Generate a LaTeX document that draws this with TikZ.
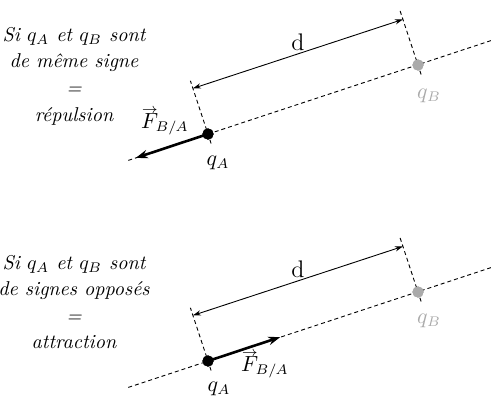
\documentclass[tikz,border=0pt]{standalone}
\usepackage{amsmath}
\usepackage{tikz}
\usetikzlibrary{arrows.meta, calc}
\definecolor{charge-gray}{HTML}{AAAAAA}
\newcommand{\forcevec}{\overset{\smash{\lower2.2pt\hbox{$\scriptstyle\rightarrow$}}}{F}_{\!B/A}}

\begin{document}
\begin{tikzpicture}[x=0.5pt, y=-0.5pt,
    charge/.style={circle, fill=black, inner sep=0pt, minimum size=5.6pt},
    ghost/.style={charge, fill=charge-gray},
    guide/.style={line width=0.45pt, dash pattern=on 2pt off 1.5pt},
    dimarr/.style={{Stealth[length=4pt, width=2.6pt]}-{Stealth[length=4pt, width=2.6pt]}, line width=0.45pt},
    force/.style={-{Stealth[length=6pt, width=4.2pt]}, line width=1.3pt},
    lbl/.style={font=\fontsize{10.5}{12}\selectfont, inner sep=0.5pt},
    rule/.style={font=\fontsize{10}{13.3}\selectfont\itshape, align=center, inner sep=0.5pt},
]
    \useasboundingbox (0,0) rectangle (491,397);

    % Same sign: repulsion
    \node[rule] (txt1) at (74,76) {Si $q_A$ et $q_B$ sont\\de même signe\\=\\répulsion};

    \node[charge] (qa1) at (208,134) {};
    \node[ghost] (qb1) at (418,65) {};
    \coordinate (l1) at (128.3,160.4);
    \coordinate (r1) at (491,40.6);
    \coordinate (pa1t) at ($(qa1)+(-17.6,-53.2)$);
    \coordinate (pa1b) at ($(qa1)+(3.1,9.5)$);
    \coordinate (pb1t) at ($(qb1)+(-17.9,-54.1)$);
    \coordinate (pb1b) at ($(qb1)+(3.1,9.5)$);
    \coordinate (da1) at ($(qa1)+(-15.1,-45.6)$);
    \coordinate (db1) at ($(qb1)+(-15.1,-45.6)$);
    \coordinate (f1) at (135.8,157.9);

    \draw[guide] (l1) -- (r1);
    \draw[guide] (pa1b) -- (pa1t);
    \draw[guide] (pb1b) -- (pb1t);
    \draw[dimarr] (da1) -- (db1) node[midway, above, lbl, font=\fontsize{12.5}{14}\selectfont, yshift=1pt] {$\mathrm{d}$};
    \draw[force] (qa1.center) -- (f1);
    \node[charge] at (qa1) {};
    \node[ghost] at (qb1) {};

    \node[lbl] (fa1) at (165,121) {$\forcevec$};
    \node[lbl] (na1) at (218,163) {$q_A$};
    \node[lbl, text=charge-gray] (nb1) at (429,96) {$q_B$};

    % Opposite signs: attraction
    \node[rule] (txt2) at (74,302) {Si $q_A$ et $q_B$ sont\\de signes opposés\\=\\attraction};

    \node[charge] (qa2) at (208,361) {};
    \node[ghost] (qb2) at (418,292) {};
    \coordinate (l2) at (128.3,387.4);
    \coordinate (r2) at (491,267.6);
    \coordinate (pa2t) at ($(qa2)+(-17.6,-53.2)$);
    \coordinate (pa2b) at ($(qa2)+(3.1,9.5)$);
    \coordinate (pb2t) at ($(qb2)+(-17.9,-54.1)$);
    \coordinate (pb2b) at ($(qb2)+(3.1,9.5)$);
    \coordinate (da2) at ($(qa2)+(-15.1,-45.6)$);
    \coordinate (db2) at ($(qb2)+(-15.1,-45.6)$);
    \coordinate (f2) at (280.2,337.1);

    \draw[guide] (l2) -- (r2);
    \draw[guide] (pa2b) -- (pa2t);
    \draw[guide] (pb2b) -- (pb2t);
    \draw[dimarr] (da2) -- (db2) node[midway, above, lbl, font=\fontsize{12.5}{14}\selectfont, yshift=1pt] {$\mathrm{d}$};
    \draw[force] (qa2.center) -- (f2);
    \node[charge] at (qa2) {};
    \node[ghost] at (qb2) {};

    \node[lbl] (fa2) at (265,364) {$\forcevec$};
    \node[lbl] (na2) at (219,389) {$q_A$};
    \node[lbl, text=charge-gray] (nb2) at (429,321) {$q_B$};

\end{tikzpicture}
\end{document}
